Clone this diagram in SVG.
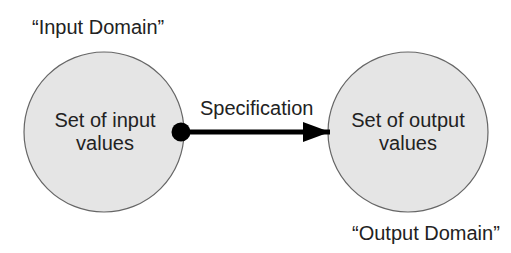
<svg xmlns="http://www.w3.org/2000/svg" width="511" height="253" viewBox="0 0 511 253">
  <style>
    .set { fill: #e5e5e5; stroke: #666666; stroke-width: 1.2; }
    .label { font-family: "Liberation Sans", Arial, sans-serif; font-size: 20px; fill: #222222; }
    .mid { text-anchor: middle; }
    .flow { stroke: #000000; stroke-width: 5; fill: none; }
  </style>
  <defs>
    <marker id="head" markerUnits="userSpaceOnUse" markerWidth="28" markerHeight="22" refX="27" refY="11" orient="auto">
      <path d="M0,1 L27,11 L0,21 Z" fill="#000000"/>
    </marker>
  </defs>
  <rect width="511" height="253" fill="#ffffff"/>

  <g id="input-set">
    <circle class="set" cx="104" cy="132" r="80"/>
    <text class="label mid" x="105" y="127">Set of input</text>
    <text class="label mid" x="105" y="150">values</text>
    <text class="label" x="32" y="34">“Input Domain”</text>
  </g>

  <g id="output-set">
    <circle class="set" cx="408" cy="132" r="80"/>
    <text class="label mid" x="408" y="127">Set of output</text>
    <text class="label mid" x="408" y="150">values</text>
    <text class="label" x="352" y="240">“Output Domain”</text>
  </g>

  <g id="connectors">
    <line class="flow" x1="182" y1="132" x2="330" y2="132" marker-end="url(#head)"/>
    <circle cx="181" cy="132" r="9.5" fill="#000000"/>
    <text class="label" x="200" y="115">Specification</text>
  </g>
</svg>
